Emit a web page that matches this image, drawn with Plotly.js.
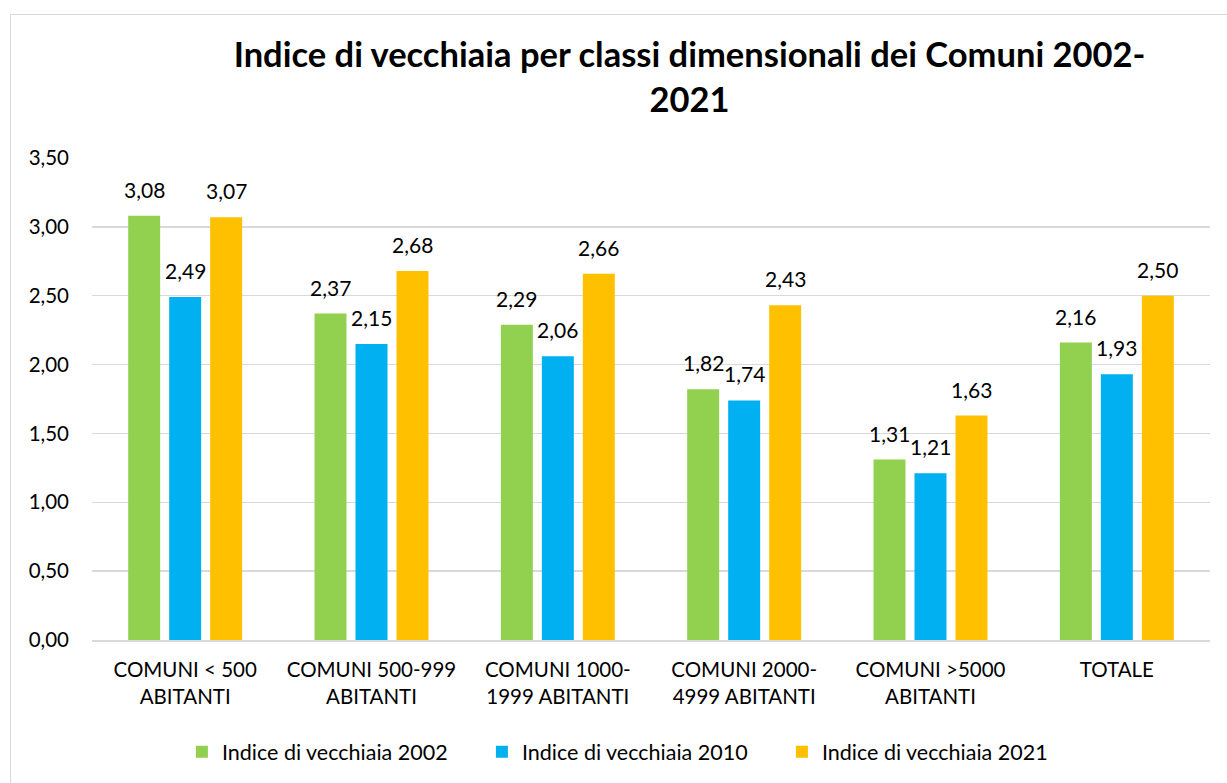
<!DOCTYPE html>
<html><head><meta charset="utf-8">
<script src="https://cdn.plot.ly/plotly-3.0.1.min.js"></script>
<style>
html,body{margin:0;padding:0;background:#fff;}
#frame{position:absolute;left:10px;top:14px;width:1240px;height:800px;border:1.5px solid #d9d9d9;box-sizing:border-box;}
#chart{position:absolute;left:0;top:0;width:1227px;height:783px;}
</style></head>
<body>
<div id="frame"></div>
<div id="chart"></div>
<script>
const categories = ["COMUNI < 500<br>ABITANTI","COMUNI 500-999<br>ABITANTI","COMUNI 1000-<br>1999 ABITANTI","COMUNI 2000-<br>4999 ABITANTI","COMUNI >5000<br>ABITANTI","TOTALE"];
const seriesNames = ["Indice di vecchiaia 2002","Indice di vecchiaia 2010","Indice di vecchiaia 2021"];
const v2002 = [3.08, 2.37, 2.29, 1.82, 1.31, 2.16];
const v2010 = [2.49, 2.15, 2.06, 1.74, 1.21, 1.93];
const v2021 = [3.07, 2.68, 2.66, 2.43, 1.63, 2.50];
const colors = ["#92D050","#00B0F0","#FFC000"];
const yTicks = [0,0.5,1,1.5,2,2.5,3,3.5];

const font = "Lato, 'Open Sans', sans-serif";
const allSeries = [v2002, v2010, v2021];
const traces = allSeries.map((vals,i)=>({
  type:"bar", x:categories, y:vals, name:seriesNames[i],
  marker:{color:colors[i]}, hoverinfo:"none"
}));

const fmt = v => v.toFixed(2).replace(".", ",");
const annotations = [];
allSeries.forEach((vals,i)=>{
  vals.forEach((v,j)=>{
    annotations.push({x:categories[j], y:v, xref:"x", yref:"y", text:fmt(v), showarrow:false,
      xshift:(i-1)*41, yshift:12, yanchor:"bottom", xanchor:"center",
      font:{family:font,size:21,color:"#000"}});
  });
});

const layout = {
  width:1227, height:783,
  paper_bgcolor:"rgba(0,0,0,0)", plot_bgcolor:"rgba(0,0,0,0)",
  separators:",.",
  margin:{l:92,r:17,t:158,b:143},
  title:{text:"<b>Indice di vecchiaia per classi dimensionali dei Comuni 2002-<br>2021</b>",
    font:{family:font,size:34.5,color:"#000"}, x:0.562, xanchor:"center", xref:"container", y:0.914, yanchor:"middle", yref:"container"},
  bargap:0.34, bargroupgap:0.22, barmode:"group",
  annotations:annotations,
  xaxis:{tickfont:{family:font,size:20.5,color:"#000"}, showline:true, linecolor:"#d9d9d9", linewidth:1.5, ticks:"", ticklabelstandoff:11, fixedrange:true},
  yaxis:{range:[0,3.5], tickvals:yTicks, tickformat:".2f", tickfont:{family:font,size:20.5,color:"#000"},
    gridcolor:"#d9d9d9", gridwidth:1.5, zeroline:false, showline:false, ticklabelstandoff:22, fixedrange:true},
  legend:{orientation:"h", x:0.515, xanchor:"center", xref:"container", y:0.04, yanchor:"middle", yref:"container",
    font:{family:font,size:21.5,color:"#000"}, itemwidth:30, tracegroupgap:0, entrywidth:255, entrywidthmode:"pixels"},
  showlegend:true
};
Plotly.newPlot("chart", traces, layout, {displayModeBar:false, staticPlot:true});
</script>
</body></html>
